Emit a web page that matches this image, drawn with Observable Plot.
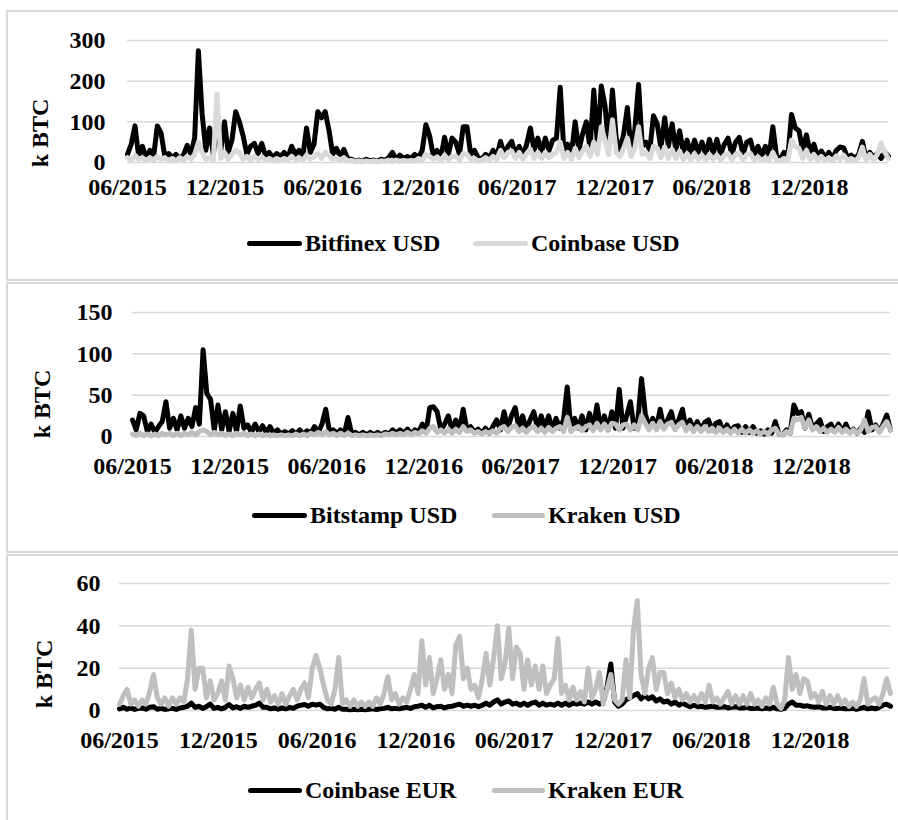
<!DOCTYPE html>
<html><head><meta charset="utf-8">
<script src="https://cdn.jsdelivr.net/npm/d3@7"></script>
<script src="https://cdn.jsdelivr.net/npm/@observablehq/plot@0.6"></script>
<style>
html,body{margin:0;padding:0;background:#fff;overflow:hidden}
#page{position:relative;width:898px;height:820px;overflow:hidden;font-family:"Liberation Serif","Times New Roman",serif;font-weight:bold;color:#000}
.box{position:absolute;left:6px;width:900px;border:2px solid #d9d9d9;box-sizing:border-box}
.chart{position:absolute;left:0}
.ytitle{position:absolute;font-size:24px;white-space:nowrap;transform:translate(-50%,-50%) rotate(-90deg)}
.leg{position:absolute;font-size:24px;white-space:nowrap;line-height:1;display:flex;align-items:center;height:30px}
.sw{display:inline-block;height:5px;border-radius:3px;margin-right:3px}
</style></head><body><div id="page"></div>
<script>
// Weekly readings (k BTC), first week starting 2015-06-01
const startDate = "2015-06-01";
const xTickDates = ["2015-06-01","2015-12-01","2016-06-01","2016-12-01","2017-06-01","2017-12-01","2018-06-01","2018-12-01"];
const yTicks1 = [0,100,200,300];
const yTicks2 = [0,50,100,150];
const yTicks3 = [0,20,40,60];

const bitfinexUSD = [
20,45,90,15,40,12,30,15,90,72,
15,22,12,20,10,18,42,20,60,275,
120,30,85,20,100,30,100,25,55,125,
100,65,20,40,47,22,47,15,25,12,
22,15,25,12,40,20,30,15,85,25,
45,125,110,125,80,20,35,15,32,10,
8,3,6,3,8,4,6,3,8,5,
12,25,8,18,10,15,10,20,12,30,
93,65,15,30,12,62,20,60,50,20,
88,88,20,30,12,8,20,12,30,15,
52,20,40,52,20,40,15,45,85,30,
60,25,60,30,55,60,185,25,45,20,
100,30,70,100,35,178,40,188,140,40,
178,60,30,70,135,30,80,192,40,50,
30,115,95,35,110,40,95,30,78,25,
55,20,55,25,50,20,57,22,57,20,
45,60,20,50,62,20,50,55,20,40,
15,40,15,88,15,10,25,12,118,85,
78,30,68,25,45,15,28,12,25,10,
30,38,36,12,18,10,20,52,10,25,
12,22,10,25,15];

const coinbaseUSD = [
12,5,18,8,12,5,12,6,15,8,
12,5,10,4,12,6,15,8,20,50,
25,8,12,6,168,10,25,8,20,30,
25,8,15,6,15,7,14,5,10,4,
10,5,10,6,15,6,12,5,18,8,
15,22,10,25,18,8,12,6,12,4,
5,2,4,2,4,2,4,2,4,3,
6,3,6,3,5,3,5,3,10,5,
20,15,8,14,5,18,6,15,15,6,
22,20,8,10,4,6,12,6,15,8,
30,12,25,28,10,25,8,22,33,10,
25,10,25,12,20,25,50,10,25,8,
35,12,28,40,15,50,20,88,55,20,
105,25,15,35,60,15,35,88,20,25,
10,40,35,12,38,10,32,10,28,8,
22,6,22,8,18,6,20,8,18,6,
18,22,6,20,22,6,20,22,6,14,
5,12,5,25,6,4,10,5,55,40,
35,10,30,8,20,6,15,5,12,5,
16,8,18,5,10,4,12,38,5,20,
6,20,48,25,10];

const bitstampUSD = [
20,8,28,25,6,15,5,12,18,42,
10,22,8,25,10,22,12,35,15,105,
52,45,8,38,8,30,6,28,6,37,
10,14,5,15,6,13,5,12,4,8,
3,6,3,7,3,8,3,7,4,12,
5,15,33,6,8,4,8,3,23,3,
5,2,5,2,5,2,5,2,5,3,
8,4,8,4,9,3,8,5,15,6,
35,36,30,8,15,25,8,20,8,33,
8,12,5,9,4,10,4,12,20,8,
30,10,25,35,10,25,8,20,30,10,
25,10,25,8,22,10,20,60,8,22,
10,25,8,28,10,38,10,25,8,30,
10,57,10,25,42,10,20,70,28,10,
22,10,33,10,20,30,10,20,33,8,
20,8,18,8,17,20,8,16,18,6,
14,6,12,13,5,12,5,12,4,7,
3,8,4,18,3,2,8,4,38,28,
30,10,27,10,15,20,6,12,15,6,
15,6,15,5,9,4,10,5,30,8,
14,6,15,26,8];

const krakenUSD = [
3,1,4,1,3,1,3,1,4,2,
4,1,4,1,4,2,5,2,6,8,
6,2,5,2,4,1,3,1,4,2,
4,1,3,1,3,1,2,1,2,1,
2,1,2,1,3,1,3,1,4,2,
5,2,6,2,4,1,4,1,4,1,
2,1,2,1,2,1,2,1,3,2,
4,2,4,2,5,2,5,3,7,4,
10,12,5,8,4,9,4,9,5,12,
6,8,4,6,3,6,4,7,4,10,
12,6,11,13,6,10,5,10,12,6,
10,5,11,6,10,12,6,23,6,10,
12,7,12,14,7,16,8,15,8,16,
15,8,14,15,8,14,8,25,16,8,
16,8,18,9,15,17,8,14,17,7,
13,6,12,6,12,6,10,5,10,5,
9,4,9,4,9,4,8,4,7,3,
6,3,8,10,3,2,6,4,22,20,
23,10,20,8,12,6,10,5,9,5,
11,5,9,4,8,4,8,20,6,11,
12,5,12,18,8];

const coinbaseEUR = [
0.8,1.5,0.6,1.2,0.5,1,1.2,0.6,1.5,1.8,
0.6,1,0.5,0.8,1,0.5,1.2,1.5,2,3.5,
1.5,2,1,1.8,3,1,1.5,0.8,1.5,2.8,
1.2,1.8,1,2,1.5,2,2.5,3.5,1.5,1.5,
0.8,1.2,0.6,1.2,0.8,1.5,1,2,2.5,2.8,
2,3,2.5,3,1.5,0.8,1,0.6,1.5,0.6,
0.6,0.4,0.6,0.4,0.6,0.4,0.6,0.8,0.5,0.8,
1,1.5,0.8,1,0.8,1.2,1.5,1,1.8,2,
2.5,1.5,2.5,1.2,1.8,2,1.2,1.8,2,2.5,
3,2,2.5,2,2.5,1.8,2.5,3.5,2.5,4,
5,3,4,4.5,3,3.5,2.5,3.5,2.5,3.5,
4,2.5,3.5,2.5,3,2.5,3.5,2.5,3.5,2.5,
3.5,3,3.5,3,4,3,4,3,4,11,
22,4,2,3,5,6,7,8,5.5,7,
5.5,6.5,4.5,5.5,4,4.5,3,4,2.5,3.5,
2.5,1.8,2.5,1.8,2,1.5,1.8,2,1.5,1.5,
1.8,1.2,1.5,1.8,1.2,1.2,1.5,1,1,1.2,
0.8,1.2,0.8,1.5,0.8,0.6,1,3,4,2.5,
2.5,2,2.2,1.8,1.5,1.8,1.2,1.2,1.5,1,
1,1.2,0.8,0.8,1,0.6,1,1.5,0.8,1.2,
0.8,1.5,2.5,3,2];

const krakenEUR = [
3,7,10,3,5,2,5,3,9,17,
6,3,6,2,6,3,6,4,15,38,
10,20,20,6,14,5,8,14,5,21,
15,6,12,5,11,6,10,13,5,10,
4,7,3,8,3,7,10,5,10,13,
6,20,26,20,12,5,3,10,25,3,
5,2,5,2,4,2,4,2,6,3,
8,16,5,8,3,6,4,10,17,8,
33,12,25,8,15,24,10,17,8,31,
35,15,20,10,12,6,15,27,12,25,
40,15,22,39,15,30,27,10,24,12,
21,10,21,8,12,15,34,8,12,5,
11,5,9,4,20,6,10,18,3,10,
17,5,3,5,24,6,38,52,17,8,
20,25,10,18,18,8,13,6,10,5,
8,4,7,4,8,4,12,4,6,3,
6,9,3,7,3,7,3,8,3,5,
2,6,3,11,3,1,5,25,10,17,
8,15,14,6,8,4,9,3,7,3,
7,3,5,2,4,2,5,15,3,5,
6,3,8,15,8];

const DAY = 86400000;
const t0 = new Date(startDate + "T00:00:00Z");
const dateAt = i => new Date(t0.getTime() + i * 7 * DAY);
const xDomain = [t0, dateAt(bitfinexUSD.length - 1)];
const xTicks = xTickDates.map(s => new Date(s + "T00:00:00Z"));
const fmt = d3.utcFormat("%m/%Y");

const page = document.getElementById("page");

function addBox(top, height) {
  const b = document.createElement("div");
  b.className = "box";
  b.style.top = top + "px";
  b.style.height = height + "px";
  page.appendChild(b);
}

function addPanel(cfg) {
  const marks = [
    Plot.gridY(cfg.yticks, {stroke: "#d9d9d9", strokeOpacity: 1, strokeWidth: 1.5}),
    Plot.axisY(cfg.yticks, {tickSize: 0, tickPadding: cfg.ypad, label: null}),
    Plot.axisX(xTicks, {tickSize: 0, tickPadding: cfg.xpad, tickFormat: fmt, label: null})
  ];
  for (const s of cfg.series) {
    marks.push(Plot.line(s.values, {
      x: (d, i) => dateAt(i), y: d => d,
      stroke: s.color, strokeWidth: 5, strokeLinejoin: "round", strokeLinecap: "round"
    }));
  }
  const svg = Plot.plot({
    width: 898, height: cfg.height,
    marginTop: cfg.mt, marginBottom: cfg.mb, marginLeft: cfg.ml, marginRight: cfg.mr,
    x: {type: "utc", domain: xDomain},
    y: {domain: [0, cfg.ymax]},
    style: {fontFamily: '"Liberation Serif","Times New Roman",serif', fontSize: "24px", fontWeight: "bold", color: "#000", background: "transparent", overflow: "visible"},
    marks
  });
  const wrap = document.createElement("div");
  wrap.className = "chart";
  wrap.style.top = cfg.top + "px";
  wrap.appendChild(svg);
  page.appendChild(wrap);

  const t = document.createElement("div");
  t.className = "ytitle";
  t.textContent = "k BTC";
  t.style.left = cfg.titleX + "px";
  t.style.top = cfg.titleY + "px";
  page.appendChild(t);

  cfg.series.forEach((s) => {
    const L = document.createElement("div");
    L.className = "leg";
    L.style.left = s.legX + "px";
    L.style.top = (cfg.legY - 15) + "px";
    const sw = document.createElement("span");
    sw.className = "sw";
    sw.style.width = s.swW + "px";
    sw.style.background = s.color;
    L.appendChild(sw);
    const tx = document.createElement("span");
    tx.textContent = s.name;
    L.appendChild(tx);
    page.appendChild(L);
  });
}

addBox(10, 271);
addBox(282, 271);
addBox(554, 300);

addPanel({
  top: 20, height: 182, mt: 20, mb: 40, ml: 127, mr: 10, ymax: 300, yticks: yTicks1,
  ypad: 22, xpad: 15, titleX: 40, titleY: 133, legY: 243,
  series: [
    {name: "Bitfinex USD", values: bitfinexUSD, color: "#000000", legX: 247, swW: 55},
    {name: "Coinbase USD", values: coinbaseUSD, color: "#d9d9d9", legX: 473, swW: 55}
  ]
});

addPanel({
  top: 290, height: 188, mt: 22, mb: 42, ml: 132, mr: 8, ymax: 150, yticks: yTicks2,
  ypad: 20, xpad: 20, titleX: 42, titleY: 404, legY: 515,
  series: [
    {name: "Bitstamp USD", values: bitstampUSD, color: "#000000", legX: 252, swW: 55},
    {name: "Kraken USD", values: krakenUSD, color: "#bfbfbf", legX: 492, swW: 53}
  ]
});

addPanel({
  top: 563, height: 189, mt: 20, mb: 42, ml: 119, mr: 8, ymax: 60, yticks: yTicks3,
  ypad: 19, xpad: 20, titleX: 44, titleY: 674, legY: 790,
  series: [
    {name: "Coinbase EUR", values: coinbaseEUR, color: "#000000", legX: 248, swW: 54},
    {name: "Kraken EUR", values: krakenEUR, color: "#bfbfbf", legX: 492, swW: 53}
  ]
});
</script></body></html>
